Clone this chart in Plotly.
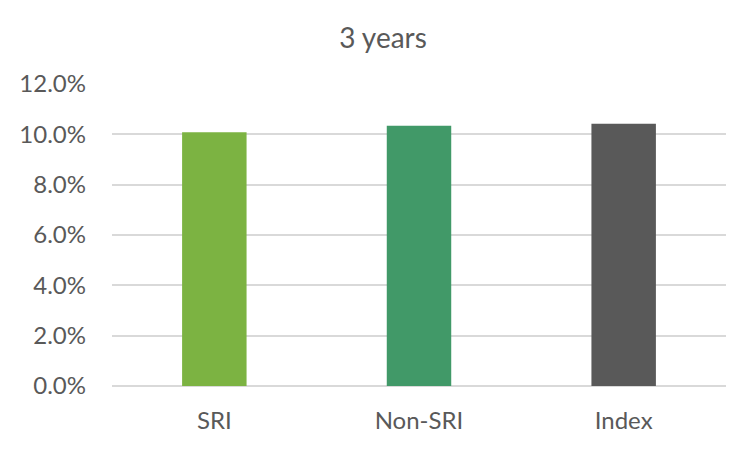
import plotly.graph_objects as go

categories = ["SRI", "Non-SRI", "Index"]
values = [10.08, 10.34, 10.42]
colors = ["#7CB342", "#419968", "#595959"]
tick_vals = [0, 2, 4, 6, 8, 10, 12]
tick_text = ["0.0%", "2.0%", "4.0%", "6.0%", "8.0%", "10.0%", "12.0%"]

fig = go.Figure(go.Bar(x=categories, y=values, marker=dict(color=colors, line=dict(width=0)),
                       hoverinfo="skip"))
fig.update_layout(
    width=750, height=449,
    margin=dict(l=104, r=32, t=76, b=71),
    paper_bgcolor="white", plot_bgcolor="white",
    font=dict(family="Lato, sans-serif", color="#595959", size=24),
    title=dict(text="3 years", x=0.5, xanchor="center", y=1 - 30/449, yanchor="middle",
               font=dict(size=28, color="#595959")),
    bargap=0.685,
    showlegend=False,
)
fig.update_yaxes(range=[0, 12], tickvals=tick_vals, ticktext=tick_text,
                 showgrid=True, gridcolor="#D9D9D9", gridwidth=1.5,
                 zeroline=True, zerolinecolor="#D9D9D9", zerolinewidth=1.5,
                 showline=False, ticks="", ticklabelstandoff=25)
fig.update_xaxes(showline=False, ticks="", ticklabelstandoff=18)
fig.write_html("out.html")
